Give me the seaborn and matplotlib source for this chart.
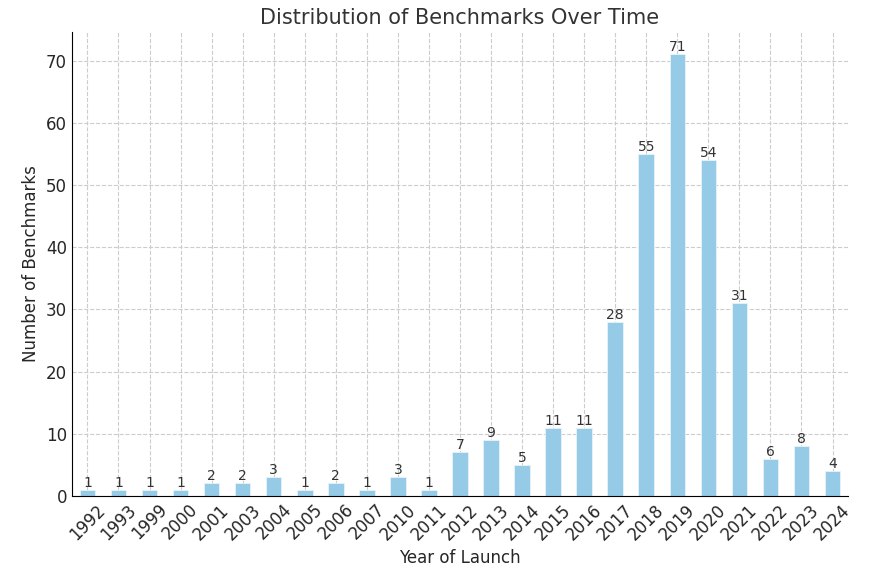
import pandas as pd
import numpy as np
import matplotlib.pyplot as plt
import seaborn as sns

# --- Data ---
years = ['1992', '1993', '1999', '2000', '2001', '2003', '2004', '2005', '2006',
         '2007', '2010', '2011', '2012', '2013', '2014', '2015', '2016', '2017',
         '2018', '2019', '2020', '2021', '2022', '2023', '2024']
counts = [1, 1, 1, 1, 2, 2, 3, 1, 2, 1, 3, 1, 7, 9, 5, 11, 11, 28, 55, 71, 54, 31, 6, 8, 4]

df = pd.DataFrame({'year': years, 'count': counts})

sns.set_style("white")
plt.rcParams['font.family'] = ['DejaVu Sans']

fig, ax = plt.subplots(figsize=(8.88, 5.72), dpi=100)
sns.barplot(data=df, x='year', y='count', color='#96CBE7',
            width=0.5, edgecolor='#e8f3fa', linewidth=0.6, saturation=1, ax=ax)

for i, v in enumerate(counts):
    ax.text(i, v, str(v), ha='center', va='bottom', fontsize=10, color='#333333')

ax.set_title('Distribution of Benchmarks Over Time', fontsize=15, color='#333333')
ax.set_xlabel('Year of Launch', fontsize=12)
ax.set_ylabel('Number of Benchmarks', fontsize=12)
ax.set_ylim(0, 74.6)
ax.set_xlim(-0.5, len(years) - 0.5)
ax.set_yticks(range(0, 71, 10))
plt.setp(ax.get_xticklabels(), rotation=45, ha='center', rotation_mode='default')
ax.tick_params(axis='both', labelsize=12, direction='in', length=4, color='#333333')
ax.grid(True, linestyle='--', color='#cccccc', linewidth=0.8)
ax.set_axisbelow(True)
sns.despine(ax=ax)
for s in ['left', 'bottom']:
    ax.spines[s].set_color('black')

plt.subplots_adjust(left=0.081, right=0.955, top=0.944, bottom=0.133)
plt.savefig('out.png', dpi=100)
